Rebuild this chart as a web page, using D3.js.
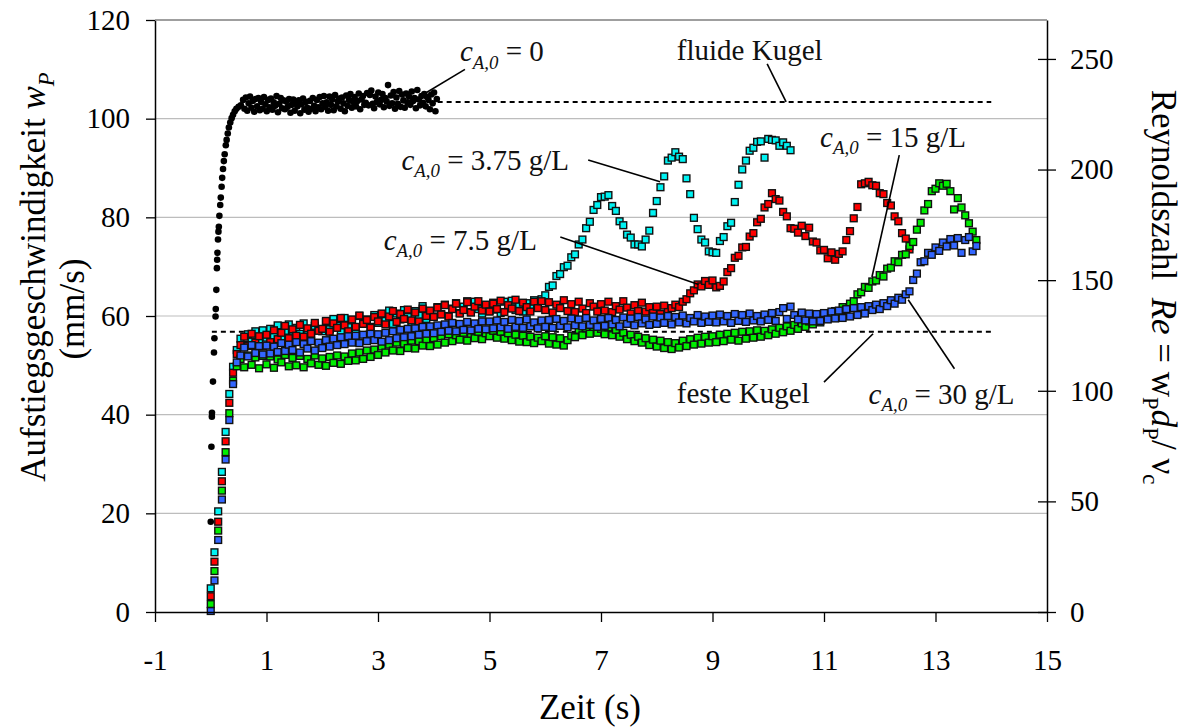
<!DOCTYPE html>
<html><head><meta charset="utf-8">
<script src="https://cdn.jsdelivr.net/npm/d3@7"></script>
<style>
body{margin:0;background:#fff;}
svg{display:block;font-family:"Liberation Serif","Times New Roman",serif;}
text{white-space:pre;}
</style></head><body>
<svg id="chart" width="1186" height="727"></svg>
<script>
// ---------------- data ----------------
const xTicks = [-1, 1, 3, 5, 7, 9, 11, 13, 15];
const yTicks = [0, 20, 40, 60, 80, 100, 120];
const reTicks = [0, 50, 100, 150, 200, 250];
const reAtTop = 267.6;          // Reynolds number at w = 120 mm/s
const frameStep = 1 / 15;       // s between the square markers

// c_A,0 = 0 (black dots)
const blackRiseT = [0.0,0.012,0.02,0.022,0.04,0.058,0.066,0.086,0.09,0.1,0.11,0.115,0.12,0.13,0.138,0.145,0.155,0.17,0.18,0.195,0.205,0.22,0.235,0.25,0.27,0.285,0.305,0.325,0.35,0.375,0.4,0.43,0.46,0.5,0.54];
const blackRiseW = [18.3,33.5,39.6,40.4,46.7,52.6,55.5,59.9,61.4,65.3,69.7,71.4,72.8,75.5,77.1,78.1,80.3,82.5,84.0,86.2,88.0,89.8,91.4,92.8,94.6,95.7,97.0,98.2,99.2,100.1,100.8,101.5,102.0,102.4,102.7];
const blackPlateauStart = 0.58, blackPlateauStep = 0.025;
const blackPlateauW = [
103.8,102.0,104.3,101.6,103.1,104.5,102.2,103.6,101.4,104.0,
102.5,104.2,101.7,103.4,102.0,104.4,102.9,101.5,103.8,102.3,
104.1,101.8,103.3,102.6,104.6,101.3,103.0,104.2,102.1,103.7,
101.9,103.5,102.4,104.0,101.2,102.8,103.9,101.6,103.2,102.5,
103.7,101.1,102.9,104.1,101.8,103.4,102.2,101.4,103.6,102.0,
104.2,102.6,101.5,103.8,102.3,104.4,101.9,103.1,104.6,102.4,
103.3,101.6,104.5,102.8,103.9,101.7,104.8,102.5,103.5,104.1,
102.0,104.3,103.1,101.5,104.7,102.6,103.8,105.0,102.2,103.4,
104.4,102.5,103.6,105.1,101.9,103.9,104.6,102.8,103.2,105.2,
102.7,104.8,105.7,103.0,102.1,104.5,103.4,105.3,102.9,103.8,
105.0,102.3,104.2,103.5,106.8,102.6,104.7,103.1,105.4,102.0,
104.3,103.0,105.6,102.4,104.9,103.7,102.2,105.1,103.3,104.5,
102.8,105.5,103.6,104.2,102.1,105.8,103.9,102.7,104.6,103.2,
105.0,102.5,104.4,103.8,101.9,104.9,103.1,105.3,101.5,104.0];

// c_A,0 = 3.75 g/L (cyan)
const cyanW = [
4.8,12.1,20.4,28.4,36.5,44.2,49.7,53.1,55.4,54.1,56.3,54.8,56.9,55.2,57.1,
55.6,57.4,56.0,58.1,55.4,57.0,58.3,55.9,57.6,56.4,58.5,56.8,55.7,58.0,57.1,
56.9,58.8,57.3,59.4,58.0,56.8,59.6,57.9,59.1,57.2,60.0,58.4,59.3,57.8,60.2,
58.6,60.3,59.0,61.1,58.4,60.5,59.3,61.2,59.8,58.7,61.0,60.1,62.0,59.4,60.8,
59.9,61.8,60.4,62.3,60.0,61.5,62.6,60.6,61.9,63.0,60.8,62.9,61.4,60.5,62.2,
61.0,62.7,61.3,60.6,62.9,61.7,63.1,61.2,62.4,60.9,62.6,61.8,63.2,62.0,63.4,
64.2,65.9,66.2,68.1,68.5,69.9,70.2,71.9,72.5,74.5,75.5,77.8,79.1,81.5,82.5,
84.1,84.2,84.5,82.3,81.3,79.2,78.4,76.5,75.9,74.5,74.5,74.1,75.5,77.3,80.9,
83.3,86.1,88.3,91.5,92.1,93.2,92.3,91.8,87.9,84.7,79.9,77.6,75.5,74.9,73.1,
72.9,72.8,75.2,76.0,78.2,78.9,83.1,86.6,89.7,91.5,93.5,94.1,95.3,95.4,92.1,
95.9,95.7,95.6,94.5,95.2,94.5,93.6];

// c_A,0 = 7.5 g/L (red)
const redW = [
3.2,10.2,18.3,26.5,34.6,42.4,48.5,52.3,54.1,55.8,53.9,56.4,54.6,55.9,53.8,
56.2,54.7,57.1,55.3,56.6,58.0,55.5,57.3,56.0,58.2,55.8,57.5,56.4,58.6,57.0,
57.4,59.0,56.8,58.5,57.6,59.6,58.1,56.9,59.3,57.8,60.1,58.4,59.2,57.6,59.8,
58.9,60.5,58.3,59.9,61.0,58.8,60.4,59.4,61.3,59.1,60.7,58.9,61.5,60.0,61.1,
59.8,61.7,60.3,62.2,59.9,61.4,62.5,60.5,61.2,62.8,60.7,61.9,63.0,61.1,62.3,
60.9,62.5,61.4,63.1,60.8,62.2,61.5,63.3,61.0,62.7,61.8,60.9,62.9,61.6,63.0,
61.2,62.8,60.7,62.3,61.6,63.2,61.0,62.4,60.8,62.9,61.5,60.6,62.6,61.9,60.9,
62.4,61.1,62.9,60.8,62.0,61.3,63.0,61.7,60.5,62.2,61.0,62.7,60.9,61.8,60.6,
61.9,60.4,62.1,60.8,61.6,62.3,61.8,62.9,63.4,64.6,65.2,66.4,66.0,67.1,66.3,
67.2,65.8,66.1,67.0,68.9,69.7,71.8,72.2,73.9,74.0,76.1,76.8,79.0,79.7,82.0,
82.7,84.9,83.7,83.4,81.1,80.2,77.8,77.7,76.9,78.3,76.2,77.9,75.1,74.9,73.3,
73.4,71.7,72.9,71.4,72.6,73.1,75.4,77.2,79.8,82.1,86.7,86.9,87.2,86.5,86.4,
84.9,84.7,82.9,82.4,80.2,79.2,76.8,75.7,73.5];

// c_A,0 = 15 g/L (green)
const greenW = [
1.6,8.3,16.5,24.6,32.4,40.3,46.9,49.8,51.3,49.6,52.0,50.1,51.6,49.4,51.9,
50.2,51.8,49.5,51.2,50.6,52.1,49.8,51.5,50.0,51.9,49.6,51.3,50.4,52.0,50.1,
51.4,49.9,51.7,50.5,52.0,50.3,51.8,50.9,52.4,51.0,52.6,51.3,53.0,51.7,53.2,
52.1,53.8,52.6,54.2,53.0,54.6,52.9,54.4,53.5,55.0,53.4,54.9,54.0,55.3,53.9,
55.5,54.2,55.9,54.6,56.3,54.9,56.1,55.2,56.6,55.0,56.4,55.5,56.8,55.3,56.5,
55.9,57.0,55.6,56.8,55.4,56.5,55.1,56.2,54.8,56.0,54.7,55.8,54.5,55.6,54.9,
55.9,54.4,55.7,54.2,55.5,54.0,55.1,56.0,55.7,57.2,56.1,57.5,56.4,57.8,56.6,
57.4,56.3,57.7,56.1,57.2,55.8,56.6,55.3,56.2,54.9,55.8,54.6,55.5,54.1,55.2,
53.8,55.0,53.5,54.7,53.3,54.5,53.6,55.0,53.9,55.3,54.2,55.6,54.4,55.8,54.6,
55.9,54.7,56.2,54.9,56.4,55.2,56.6,55.0,56.8,55.4,56.9,55.6,57.1,55.8,57.0,
56.1,57.3,56.4,57.6,56.7,57.9,57.0,58.2,57.4,58.5,57.8,58.9,58.3,59.2,58.7,
59.5,60.2,59.8,61.0,60.6,61.8,61.2,62.5,63.0,64.4,64.8,65.9,65.7,67.0,67.2,
68.3,68.0,69.6,69.8,71.1,70.9,72.4,72.5,74.2,75.0,77.5,78.9,81.4,82.7,85.3,
85.8,86.9,86.4,86.8,85.3,81.6,83.9,82.0,80.4,78.8,77.1,75.4];

// c_A,0 = 30 g/L (blue)
const blueW = [
0.2,6.4,14.6,22.8,30.9,38.9,46.2,50.6,52.0,53.6,51.8,54.1,52.5,53.9,52.2,
54.0,52.4,53.8,52.7,54.5,52.9,54.2,53.1,54.7,52.6,54.3,53.4,54.9,53.0,54.6,
53.5,55.1,53.8,55.4,54.1,55.7,54.3,55.9,54.6,56.0,54.5,56.2,54.9,56.4,55.1,
56.3,54.8,56.6,55.1,56.9,55.5,57.2,55.7,57.4,55.9,57.5,56.2,57.8,56.4,57.9,
56.5,58.1,56.8,58.3,57.0,58.6,56.9,58.4,57.2,58.8,57.1,58.5,57.4,58.9,57.3,
58.9,57.5,59.1,57.7,58.8,57.4,59.2,57.8,59.0,57.6,59.3,57.9,58.7,57.5,59.1,
57.8,59.2,57.6,59.4,58.0,59.0,57.7,59.5,58.1,59.3,57.9,59.6,58.2,59.1,57.8,
59.4,58.0,59.6,58.3,59.2,57.9,59.7,58.4,59.5,58.1,59.8,58.5,59.3,58.2,59.9,
58.4,59.7,58.6,60.0,58.3,59.8,58.7,60.1,58.5,59.6,58.9,60.2,58.6,59.9,58.8,
60.1,58.7,60.3,58.9,60.0,58.6,60.4,59.0,60.2,58.8,60.5,59.1,60.0,58.9,60.3,
59.2,60.6,59.0,60.8,61.6,59.4,61.9,60.2,59.3,60.7,59.1,60.5,58.9,60.4,59.0,
60.6,59.3,60.9,59.5,61.1,59.6,61.4,59.9,61.6,60.2,61.8,60.5,62.0,61.2,62.3,
61.4,62.6,62.0,63.2,62.5,63.7,63.3,64.4,65.0,67.3,68.6,70.9,71.1,72.8,72.4,
73.9,73.2,74.9,74.1,75.6,74.3,75.8,72.8,75.4,76.0,73.1,74.2];

const seriesColors = ["#00F2F2", "#FF0000", "#00EE00", "#3366FF"];
const seriesValues = [cyanW, redW, greenW, blueW];

// reference lines (fluid sphere / solid sphere)
const refLevels = [103.4, 56.8];
const refFrom   = [4.07, 0.02];
const refTo     = [14.0, 14.0];

// annotations: text parts, anchor (t, w), leader line ends
const annotations = [
  {parts:[["c","i"],["A,0","is"],[" = 0",""]], t:4.47, w:111.6, anchor:"start", lead:[[4.56,110.0],[3.75,104.5]]},
  {parts:[["fluide Kugel",""]], t:8.36, w:111.9, anchor:"start", lead:[[9.98,111.1],[10.32,103.4]]},
  {parts:[["c","i"],["A,0","is"],[" = 3.75 g/L",""]], t:3.42, w:89.6, anchor:"start", lead:[[6.77,91.6],[8.06,87.2]]},
  {parts:[["c","i"],["A,0","is"],[" = 7.5 g/L",""]], t:5.85, w:73.4, anchor:"end", lead:[[6.27,76.0],[8.75,66.4]]},
  {parts:[["c","i"],["A,0","is"],[" = 15 g/L",""]], t:10.93, w:94.3, anchor:"start", lead:[[12.35,92.6],[11.86,67.9]]},
  {parts:[["feste Kugel",""]], t:8.36, w:42.3, anchor:"start", lead:[[11.0,46.6],[11.88,56.4]]},
  {parts:[["c","i"],["A,0","is"],[" = 30 g/L",""]], t:11.8, w:42.2, anchor:"start", lead:[[13.34,49.3],[12.51,63.3]]}
];

// ---------------- drawing ----------------
const L = 155, R = 1047, T = 20, B = 612;
const svg = d3.select("#chart");
const x = d3.scaleLinear().domain([-1, 15]).range([L, R]);
const y = d3.scaleLinear().domain([0, 120]).range([B, T]);
const yRe = d3.scaleLinear().domain([0, reAtTop]).range([B, T]);
const fs = 29;

function rich(sel, parts, size) {
  parts.forEach((p, k) => {
    const sub = p[1].includes("s");
    const prevSub = k > 0 && parts[k-1][1].includes("s");
    const ts = sel.append("tspan").text(p[0]);
    if (p[1].includes("i")) ts.attr("font-style", "italic");
    if (sub) ts.attr("font-size", size * 0.65).attr("dy", size * 0.25);
    else if (prevSub) ts.attr("dy", -size * 0.25);
  });
}

// gridlines
svg.append("g").selectAll("line").data(yTicks.filter(d => d > 0)).join("line")
  .attr("x1", L).attr("x2", R).attr("y1", d => y(d)).attr("y2", d => y(d))
  .attr("stroke", "#bdbdbd").attr("stroke-width", 1.2);

// dashed reference lines
svg.append("g").selectAll("line").data(refLevels).join("line")
  .attr("x1", (d, i) => x(refFrom[i])).attr("x2", (d, i) => x(refTo[i]))
  .attr("y1", d => y(d)).attr("y2", d => y(d))
  .attr("stroke", "#000").attr("stroke-width", 2).attr("stroke-dasharray", "5,4");

// black dots
const blackPts = blackRiseT.map((t, i) => [t, blackRiseW[i]])
  .concat(blackPlateauW.map((w, i) => [blackPlateauStart + i * blackPlateauStep, w]));
svg.append("g").selectAll("circle").data(blackPts).join("circle")
  .attr("cx", d => x(d[0])).attr("cy", d => y(d[1])).attr("r", 3.3).attr("fill", "#000");

// square series
const sq = 6.8;
seriesValues.forEach((vals, si) => {
  svg.append("g").selectAll("rect").data(vals).join("rect")
    .attr("x", (d, i) => x(i * frameStep) - sq / 2)
    .attr("y", d => y(d) - sq / 2)
    .attr("width", sq).attr("height", sq)
    .attr("fill", seriesColors[si]).attr("stroke", "#111").attr("stroke-width", 1.4);
});

// axes
const axL = svg.append("g").attr("transform", `translate(${L},0)`)
  .call(d3.axisLeft(y).tickValues(yTicks).tickSize(9).tickSizeOuter(0).tickPadding(16).tickFormat(d => String(d)));
const axB = svg.append("g").attr("transform", `translate(0,${B})`)
  .call(d3.axisBottom(x).tickValues(xTicks).tickSize(10).tickSizeOuter(0).tickPadding(27).tickFormat(d => String(d)));
const axR = svg.append("g").attr("transform", `translate(${R},0)`)
  .call(d3.axisRight(yRe).tickValues(reTicks).tickSize(9).tickSizeOuter(0).tickPadding(14).tickFormat(d => String(d)));
axR.selectAll(".tick line").attr("x1", -9);
[axL, axB, axR].forEach(a => {
  a.selectAll("text").attr("font-size", fs).attr("font-family", "Liberation Serif").attr("fill", "#000");
  a.selectAll("line").attr("stroke", "#000").attr("stroke-width", 1.3);
  a.select(".domain").attr("stroke", "#000").attr("stroke-width", 1.5);
});
// top border
svg.append("line").attr("x1", L).attr("x2", R).attr("y1", T).attr("y2", T)
  .attr("stroke", "#8a8a8a").attr("stroke-width", 1.3);

// annotations
const ag = svg.append("g");
annotations.forEach(a => {
  ag.append("line")
    .attr("x1", x(a.lead[0][0])).attr("y1", y(a.lead[0][1]))
    .attr("x2", x(a.lead[1][0])).attr("y2", y(a.lead[1][1]))
    .attr("stroke", "#000").attr("stroke-width", 1.6);
  const tx = ag.append("text").attr("x", x(a.t)).attr("y", y(a.w))
    .attr("font-size", fs).attr("text-anchor", a.anchor).attr("fill", "#111");
  rich(tx, a.parts, fs);
});

// axis titles
const tfs = 35;
svg.append("text").attr("x", 590).attr("y", 719).attr("text-anchor", "middle")
  .attr("font-size", tfs).text("Zeit (s)");
const lt1 = svg.append("text").attr("transform", "translate(45,277) rotate(-90)")
  .attr("text-anchor", "middle").attr("font-size", tfs);
rich(lt1, [["Aufstiegsgeschwindigkeit ", ""], ["w", "i"], ["P", "is"]], tfs);
svg.append("text").attr("transform", "translate(84,309) rotate(-90)")
  .attr("text-anchor", "middle").attr("font-size", tfs).text("(mm/s)");
const rt = svg.append("text").attr("transform", "translate(1152,287) rotate(90)")
  .attr("text-anchor", "middle").attr("font-size", tfs);
rich(rt, [["Reynoldszahl  ", ""], ["Re", "i"], [" = w", ""], ["P", "s"], ["d", "i"], ["P", "s"], ["/ ν", ""], ["c", "s"]], tfs);
</script>
</body></html>
